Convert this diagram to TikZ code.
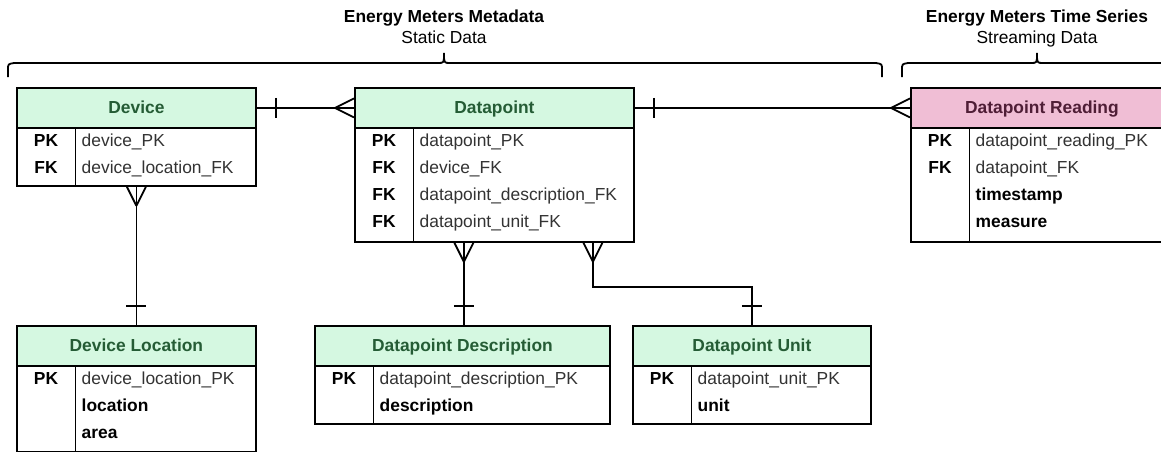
\documentclass[tikz,border=0pt]{standalone}
\usepackage{fontspec}
\setmainfont{Liberation Sans}
\usetikzlibrary{calc}

\definecolor{hdrgreen}{HTML}{D5F8E1}
\definecolor{hdrgreentext}{HTML}{255C35}
\definecolor{hdrpink}{HTML}{F0BED5}
\definecolor{hdrpinktext}{HTML}{4F1E36}
\definecolor{fieldgray}{HTML}{333333}

\tikzset{
  txt/.style={font=\fontsize{17.4}{20}\selectfont, inner sep=0pt},
  tblline/.style={line width=1.8pt, black},
  tblbody/.style={tblline, draw, fill=white, rectangle, inner sep=0pt},
  hdrbox/.style={tblline, draw, rectangle, inner sep=0pt, minimum height=40pt,
    text height=12.5pt, text depth=2pt, font=\fontsize{17.4}{20}\selectfont\bfseries},
  hdrgreenbox/.style={hdrbox, fill=hdrgreen, text=hdrgreentext},
  hdrpinkbox/.style={hdrbox, fill=hdrpink, text=hdrpinktext},
  keytext/.style={txt, anchor=base, font=\fontsize{17.4}{20}\selectfont\bfseries},
  fieldtext/.style={txt, anchor=base west, text=fieldgray},
  conn/.style={line width=1.8pt, black},
  crow/.pic={\draw[conn] (-19,0) -- (0,-9.5) (-19,0) -- (0,9.5);},
  onemark/.pic={\draw[conn] (19,-10) -- (19,10);},
}

% #1 name, #2 left, #3 top, #4 width, #5 height, #6 title, #7 header style, #8 rows key/field
\newcommand\ertable[8]{%
  \node[tblbody, minimum width=#4pt, minimum height=#5pt, anchor=north west] (#1) at (#2,#3) {};
  \node[#7, minimum width=#4pt, anchor=north west] (#1-h) at (#2,#3) {#6};
  \draw[tblline] ([xshift=59.5pt]#1-h.south west) -- ([xshift=59.5pt]#1.south west);
  \foreach \k/\f [count=\i from 0] in {#8} {
    \node[keytext] at ($(#1-h.south west)+(30,18+27*\i)$) {\k};
    \node[fieldtext] at ($(#1-h.south west)+(65.5,18+27*\i)$) {\f};
  }%
}

\begin{document}
\begin{tikzpicture}[x=1pt, y=-1pt]
\useasboundingbox (0,0) rectangle (1161,452);

% group titles
\node[txt, anchor=base, font=\fontsize{17.4}{20}\selectfont\bfseries] (meta-t) at (444,23) {Energy Meters Metadata};
\node[txt, anchor=base] (meta-s) at (444,44) {Static Data};
\node[txt, anchor=base, font=\fontsize{17.4}{20}\selectfont\bfseries] (ts-t) at (1037,23) {Energy Meters Time Series};
\node[txt, anchor=base] (ts-s) at (1037,44) {Streaming Data};

% braces
\draw[conn] (8,77) -- (8,70) .. controls (8,64) .. (14,63) -- (438,63)
  .. controls (444,63) .. (444,53) .. controls (444,63) .. (450,63)
  -- (876,63) .. controls (882,64) .. (882,70) -- (882,77);
\draw[conn] (902,77) -- (902,70) .. controls (902,64) .. (908,63) -- (1031,63)
  .. controls (1037,63) .. (1037,53) .. controls (1037,63) .. (1043,63)
  -- (1180,63);

% tables
\ertable{dev}{16}{87}{239}{98}{Device}{hdrgreenbox}%
  {PK/device\_PK, FK/device\_location\_FK}
\ertable{dp}{354}{87}{279}{154}{Datapoint}{hdrgreenbox}%
  {PK/datapoint\_PK, FK/device\_FK, FK/datapoint\_description\_FK, FK/datapoint\_unit\_FK}
\ertable{rd}{910}{87}{262}{154}{Datapoint Reading}{hdrpinkbox}%
  {PK/datapoint\_reading\_PK, FK/datapoint\_FK, /\textbf{\color{black}timestamp}, /\textbf{\color{black}measure}}
\ertable{loc}{16}{325}{239}{126}{Device Location}{hdrgreenbox}%
  {PK/device\_location\_PK, /\textbf{\color{black}location}, /\textbf{\color{black}area}}
\ertable{desc}{314}{325}{295}{98}{Datapoint Description}{hdrgreenbox}%
  {PK/datapoint\_description\_PK, /\textbf{\color{black}description}}
\ertable{unit}{632}{325}{238}{98}{Datapoint Unit}{hdrgreenbox}%
  {PK/datapoint\_unit\_PK, /\textbf{\color{black}unit}}

% relationships
\draw[conn] (dev-h.east) -- (dp-h.west);
\pic at (dev-h.east) {onemark};
\pic at (dp-h.west) {crow};

\draw[conn] (dp-h.east) -- (rd-h.west);
\pic at (dp-h.east) {onemark};
\pic at (rd-h.west) {crow};

\draw[conn] (dev.south) -- (loc.north);
\pic[rotate=90] at (dev.south) {crow};
\pic[rotate=90] at (loc.north) {onemark};

\draw[conn] ([xshift=1.5pt]desc.north |- dp.south) -- ([xshift=1.5pt]desc.north);
\pic[rotate=90] at ([xshift=1.5pt]desc.north |- dp.south) {crow};
\pic[rotate=90] at ([xshift=1.5pt]desc.north) {onemark};

\draw[conn] ([xshift=98.5pt]dp.south) -- ++(0,44) -| (unit.north);
\pic[rotate=90] at ([xshift=98.5pt]dp.south) {crow};
\pic[rotate=90] at (unit.north) {onemark};
\end{tikzpicture}
\end{document}
